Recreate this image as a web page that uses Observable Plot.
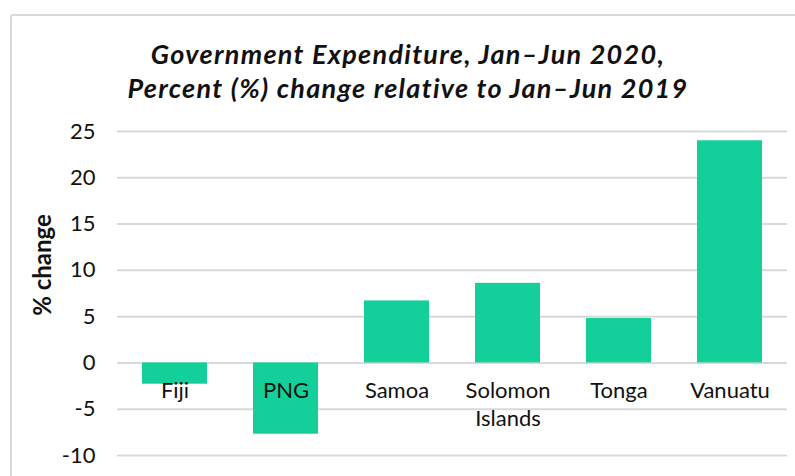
<!DOCTYPE html>
<html>
<head>
<meta charset="utf-8">
<script src="https://cdn.jsdelivr.net/npm/d3@7"></script>
<script src="https://cdn.jsdelivr.net/npm/@observablehq/plot@0.6"></script>
<style>
  html, body { margin: 0; padding: 0; background: #fff; }
  #wrap { position: relative; width: 795px; height: 476px; overflow: hidden; font-family: Lato, "Open Sans", sans-serif; }
  #frame { position: absolute; left: 10px; top: 14px; width: 820px; height: 500px; border: 2px solid #d9d9d9; box-sizing: border-box; border-radius: 3px; }
  #title { position: absolute; left: 0; top: 0; width: 816px; text-align: center; font-weight: 700; font-style: italic; font-size: 27px; letter-spacing: 1.3px; line-height: 34px; padding-top: 37px; color: #111; }
  #ylabel { position: absolute; left: 41px; top: 265px; transform: translate(-50%, -50%) rotate(-90deg); font-weight: 700; font-size: 24px; color: #111; white-space: nowrap; }
  #chart { position: absolute; left: 0; top: 110px; }
</style>
</head>
<body>
<div id="wrap">
  <div id="frame"></div>
  <div id="title">Government Expenditure, Jan–Jun 2020,<br>Percent (%) change relative to Jan–Jun 2019</div>
  <div id="chart"></div>
  <div id="ylabel">% change</div>
</div>
<script>
const countries = ["Fiji", "PNG", "Samoa", "Solomon\nIslands", "Tonga", "Vanuatu"];
const changes = [-2.3, -7.7, 6.7, 8.6, 4.8, 24.0];
const yTicks = [-10, -5, 0, 5, 10, 15, 20, 25];

const data = countries.map((c, i) => ({country: c, value: changes[i]}));

const plot = Plot.plot({
  width: 795,
  height: 366,
  marginLeft: 117,
  marginRight: 8,
  marginTop: 21,
  marginBottom: 21,
  style: {fontFamily: "Lato, 'Open Sans', sans-serif", fontSize: "22px", color: "#111", background: "transparent"},
  x: {domain: countries, paddingInner: 0.41, paddingOuter: 0.205, axis: null},
  y: {domain: [-10, 25], ticks: yTicks, label: null},
  marks: [
    Plot.ruleY(yTicks, {stroke: "#d9d9d9", strokeWidth: 2}),
    Plot.barY(data, {x: "country", y: "value", fill: "#13D09B"}),
    Plot.axisY({ticks: yTicks, tickSize: 0, tickPadding: 22, label: null, fontSize: 22, tickFormat: d => String(d)}),
    Plot.text(data, {x: "country", y: () => 0, text: "country", lineAnchor: "top", dy: 16, fontSize: 22, lineHeight: 1.25, fill: "#111"})
  ]
});
document.getElementById("chart").appendChild(plot);
</script>
</body>
</html>
